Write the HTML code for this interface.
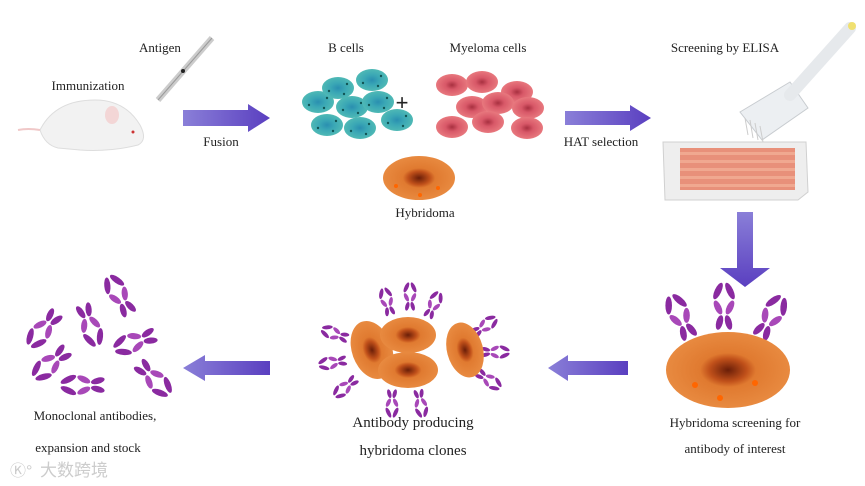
<!DOCTYPE html>
<html><head><meta charset="utf-8"><style>
html,body{margin:0;padding:0;background:#fff;width:865px;height:486px;overflow:hidden}
text{font-family:"Liberation Serif",serif;fill:#222}
</style></head><body>
<svg width="865" height="486" viewBox="0 0 865 486" xmlns="http://www.w3.org/2000/svg">
<defs>
<linearGradient id="ah" x1="0" y1="0" x2="1" y2="0"><stop offset="0" stop-color="#8a7fd8"/><stop offset="1" stop-color="#5a3fc0"/></linearGradient>
<linearGradient id="av" x1="0" y1="0" x2="0" y2="1"><stop offset="0" stop-color="#8a7fd8"/><stop offset="1" stop-color="#5a3fc0"/></linearGradient>
<radialGradient id="teal"><stop offset="0" stop-color="#2a8fb0"/><stop offset="0.45" stop-color="#3aa7b5"/><stop offset="1" stop-color="#4fb9b5"/></radialGradient>
<radialGradient id="red"><stop offset="0" stop-color="#a83040"/><stop offset="0.4" stop-color="#d85868"/><stop offset="1" stop-color="#e8787e"/></radialGradient>
<radialGradient id="org" cx="0.5" cy="0.5"><stop offset="0" stop-color="#6a1e08"/><stop offset="0.3" stop-color="#c0501a"/><stop offset="0.45" stop-color="#e07a30"/><stop offset="1" stop-color="#e88a40"/></radialGradient>
<g id="ab">
<ellipse cx="-4" cy="-14" rx="2.2" ry="6" fill="#8a2aa0" transform="rotate(25 -4 -14)"/>
<ellipse cx="4" cy="-14" rx="2.2" ry="6" fill="#8a2aa0" transform="rotate(-25 4 -14)"/>
<ellipse cx="-4" cy="-3" rx="2.2" ry="5" fill="#a848b8" transform="rotate(-25 -4 -3)"/>
<ellipse cx="4" cy="-3" rx="2.2" ry="5" fill="#a848b8" transform="rotate(25 4 -3)"/>
<ellipse cx="-3" cy="7" rx="2.2" ry="5" fill="#8a2aa0" transform="rotate(15 -3 7)"/>
<ellipse cx="3" cy="7" rx="2.2" ry="5" fill="#8a2aa0" transform="rotate(-15 3 7)"/>
</g>
<g id="bc"><ellipse rx="16" ry="11" fill="url(#teal)"/><circle cx="-9" cy="3" r="1.2" fill="#155"/><circle cx="9" cy="-4" r="1.2" fill="#155"/><circle cx="6" cy="6" r="1.2" fill="#155"/></g>
<g id="rc"><ellipse rx="16" ry="11" fill="url(#red)"/></g>
</defs>

<!-- mouse -->
<path d="M40 130 Q55 100 95 100 Q125 100 140 125 Q148 140 138 145 Q110 152 80 150 L58 148 Q45 145 40 130Z" fill="#f2f2f2" stroke="#ddd"/>
<path d="M40 130 Q28 128 18 130" stroke="#f0c8c8" stroke-width="2" fill="none"/>
<ellipse cx="112" cy="115" rx="7" ry="9" fill="#f3d6d6"/>
<circle cx="133" cy="132" r="1.5" fill="#c33"/>
<!-- syringe -->
<line x1="158" y1="100" x2="212" y2="38" stroke="#ccc" stroke-width="6"/>
<line x1="158" y1="100" x2="212" y2="38" stroke="#9a9a9a" stroke-width="1"/>
<circle cx="183" cy="71" r="2" fill="#222"/>
<!-- text -->
<text x="160" y="52" font-size="13" text-anchor="middle">Antigen</text>
<text x="88" y="90" font-size="13" text-anchor="middle">Immunization</text>
<text x="221" y="146" font-size="13" text-anchor="middle">Fusion</text>
<text x="346" y="52" font-size="13" text-anchor="middle">B cells</text>
<text x="488" y="52" font-size="13" text-anchor="middle">Myeloma cells</text>
<text x="725" y="52" font-size="13" text-anchor="middle">Screening by ELISA</text>
<text x="601" y="146" font-size="13" text-anchor="middle">HAT selection</text>
<text x="425" y="217" font-size="13" text-anchor="middle">Hybridoma</text>
<text x="95" y="420" font-size="13" text-anchor="middle">Monoclonal antibodies,</text>
<text x="88" y="452" font-size="13" text-anchor="middle">expansion and stock</text>
<text x="413" y="427" font-size="15" text-anchor="middle">Antibody producing</text>
<text x="413" y="455" font-size="15" text-anchor="middle">hybridoma clones</text>
<text x="735" y="427" font-size="13" text-anchor="middle">Hybridoma screening for</text>
<text x="735" y="453" font-size="13" text-anchor="middle">antibody of interest</text>
<text x="40" y="476" font-size="17" style="fill:#ccc;font-family:'Noto Sans CJK SC',sans-serif">大数跨境</text>
<text x="10" y="476" font-size="16" style="fill:#ccc;font-family:'Liberation Sans',sans-serif">Ⓚ°</text>

<!-- arrows -->
<polygon points="183,110 248,110 248,104 270,118 248,132 248,126 183,126" fill="url(#ah)"/>
<polygon points="565,111 630,111 630,105 651,118 630,131 630,125 565,125" fill="url(#ah)"/>
<polygon points="737,212 753,212 753,268 770,268 745,287 720,268 737,268" fill="url(#av)"/>
<polygon points="628,361 568,361 568,355 548,368 568,381 568,375 628,375" fill="url(#ah)"/>
<polygon points="270,361 205,361 205,355 183,368 205,381 205,375 270,375" fill="url(#ah)"/>

<!-- B cells -->
<use href="#bc" x="318" y="102"/><use href="#bc" x="338" y="88"/><use href="#bc" x="372" y="80"/><use href="#bc" x="352" y="107"/><use href="#bc" x="378" y="102"/><use href="#bc" x="327" y="125"/><use href="#bc" x="360" y="128"/><use href="#bc" x="397" y="120"/>
<text x="402" y="110" font-size="22" text-anchor="middle" style="font-family:'Liberation Sans',sans-serif">+</text>
<!-- myeloma -->
<use href="#rc" x="452" y="85"/><use href="#rc" x="482" y="82"/><use href="#rc" x="517" y="92"/><use href="#rc" x="472" y="107"/><use href="#rc" x="498" y="103"/><use href="#rc" x="528" y="108"/><use href="#rc" x="452" y="127"/><use href="#rc" x="488" y="122"/><use href="#rc" x="527" y="128"/>
<!-- hybridoma -->
<ellipse cx="419" cy="178" rx="36" ry="22" fill="url(#org)"/>
<circle cx="396" cy="186" r="2" fill="#f60"/><circle cx="420" cy="195" r="2" fill="#f60"/><circle cx="438" cy="188" r="2" fill="#f60"/>

<!-- pipette -->
<path d="M740 112 L790 82 L808 108 L762 140Z" fill="#eceff2" stroke="#c8ccd0"/>
<line x1="790" y1="95" x2="850" y2="28" stroke="#e6e9ec" stroke-width="12" stroke-linecap="round"/>
<circle cx="852" cy="26" r="4" fill="#f0e070"/>
<g stroke="#ccc" stroke-width="1"><line x1="745" y1="118" x2="748" y2="135"/><line x1="750" y1="120" x2="753" y2="138"/><line x1="755" y1="123" x2="758" y2="140"/><line x1="760" y1="126" x2="763" y2="142"/></g>
<!-- plate -->
<path d="M663 142 L806 142 L808 192 L798 200 L665 200 Z" fill="#eee" stroke="#d0d0d0"/>
<rect x="680" y="148" width="115" height="42" fill="#e8907a"/>
<g fill="#f0a890"><rect x="680" y="152" width="115" height="3"/><rect x="680" y="160" width="115" height="3"/><rect x="680" y="168" width="115" height="3"/><rect x="680" y="176" width="115" height="3"/><rect x="680" y="184" width="115" height="3"/></g>

<!-- big hybridoma with antibodies -->
<use href="#ab" transform="translate(683,322) rotate(-25) scale(1.5)"/>
<use href="#ab" transform="translate(724,312) scale(1.5)"/>
<use href="#ab" transform="translate(768,322) rotate(30) scale(1.5)"/>
<ellipse cx="728" cy="370" rx="62" ry="38" fill="url(#org)"/>
<circle cx="695" cy="385" r="3" fill="#f60"/><circle cx="720" cy="398" r="3" fill="#f60"/><circle cx="755" cy="383" r="3" fill="#f60"/>

<!-- clones -->
<g>
<use href="#ab" transform="translate(388,305) rotate(-15) scale(0.9)"/><use href="#ab" transform="translate(410,300) scale(0.9)"/><use href="#ab" transform="translate(432,308) rotate(25) scale(0.9)"/>
<use href="#ab" transform="translate(338,335) rotate(-70) scale(0.9)"/><use href="#ab" transform="translate(336,362) rotate(-100) scale(0.9)"/><use href="#ab" transform="translate(348,385) rotate(-130) scale(0.9)"/>
<use href="#ab" transform="translate(392,400) rotate(180) scale(0.9)"/><use href="#ab" transform="translate(420,400) rotate(170) scale(0.9)"/>
<use href="#ab" transform="translate(482,328) rotate(55) scale(0.9)"/><use href="#ab" transform="translate(492,352) rotate(90) scale(0.9)"/><use href="#ab" transform="translate(486,378) rotate(125) scale(0.9)"/>
</g>
<ellipse cx="372" cy="350" rx="20" ry="30" fill="url(#org)" transform="rotate(-20 372 350)"/>
<ellipse cx="408" cy="335" rx="28" ry="18" fill="url(#org)"/>
<ellipse cx="408" cy="370" rx="30" ry="18" fill="url(#org)"/>
<ellipse cx="465" cy="350" rx="18" ry="28" fill="url(#org)" transform="rotate(-15 465 350)"/>

<!-- monoclonal antibodies -->
<g>
<use href="#ab" transform="translate(47,325) rotate(-140) scale(1.4)"/>
<use href="#ab" transform="translate(88,320) rotate(160) scale(1.4)"/>
<use href="#ab" transform="translate(122,300) rotate(-30) scale(1.4)"/>
<use href="#ab" transform="translate(140,340) rotate(-110) scale(1.4)"/>
<use href="#ab" transform="translate(55,360) rotate(-130) scale(1.4)"/>
<use href="#ab" transform="translate(88,385) rotate(-90) scale(1.4)"/>
<use href="#ab" transform="translate(150,375) rotate(135) scale(1.4)"/>
</g>
</svg>
</body></html>
